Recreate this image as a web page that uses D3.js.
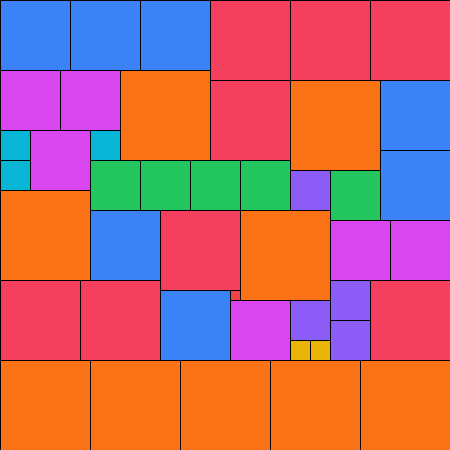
<!DOCTYPE html>
<html>
<head>
<meta charset="utf-8">
<script src="https://cdn.jsdelivr.net/npm/d3@7"></script>
<style>
  html, body { margin: 0; padding: 0; background: #fff; overflow: hidden; }
  svg { display: block; }
</style>
</head>
<body>
<div id="chart"></div>
<script>
// Partridge tiling: n squares of side n (n = 1..9) fill a 45 x 45 square.
const sizes  = [9, 8, 7, 6, 5, 4, 3, 2, 1];
const colors = ["#f97316", "#f43f5e", "#3b82f6", "#d946ef", "#22c55e", "#8b5cf6", "#06b6d4", "#eab308", "#ef4444"];

// Grid positions (in units) of the squares for each side length
const pos9 = [[12, 7], [29, 8], [0, 19], [24, 21], [0, 36], [9, 36], [18, 36], [27, 36], [36, 36]];
const pos8 = [[21, 0], [29, 0], [37, 0], [21, 8], [16, 21], [0, 28], [8, 28], [37, 28]];
const pos7 = [[0, 0], [7, 0], [14, 0], [38, 8], [38, 15], [9, 21], [16, 29]];
const pos6 = [[0, 7], [6, 7], [3, 13], [33, 22], [39, 22], [23, 30]];
const pos5 = [[9, 16], [14, 16], [19, 16], [24, 16], [33, 17]];
const pos4 = [[29, 17], [29, 30], [33, 28], [33, 32]];
const pos3 = [[0, 13], [0, 16], [9, 13]];
const pos2 = [[29, 34], [31, 34]];
const pos1 = [[23, 29]];
const positions = [pos9, pos8, pos7, pos6, pos5, pos4, pos3, pos2, pos1];

const total = 45;
const W = 450, H = 450;

const squares = [];
sizes.forEach((s, i) => {
  positions[i].forEach(p => squares.push({ size: s, x: p[0], y: p[1], color: colors[i] }));
});

const x = d3.scaleLinear().domain([0, total]).range([0, W]);
const y = d3.scaleLinear().domain([0, total]).range([0, H]);

const svg = d3.select("#chart").append("svg")
  .attr("width", W).attr("height", H);

svg.selectAll("rect")
  .data(squares)
  .join("rect")
  .attr("x", d => x(d.x))
  .attr("y", d => y(d.y))
  .attr("width", d => x(d.x + d.size) - x(d.x))
  .attr("height", d => y(d.y + d.size) - y(d.y))
  .attr("fill", d => d.color)
  .attr("stroke", "#000")
  .attr("stroke-width", 1)
  .attr("shape-rendering", "crispEdges");
</script>
</body>
</html>
